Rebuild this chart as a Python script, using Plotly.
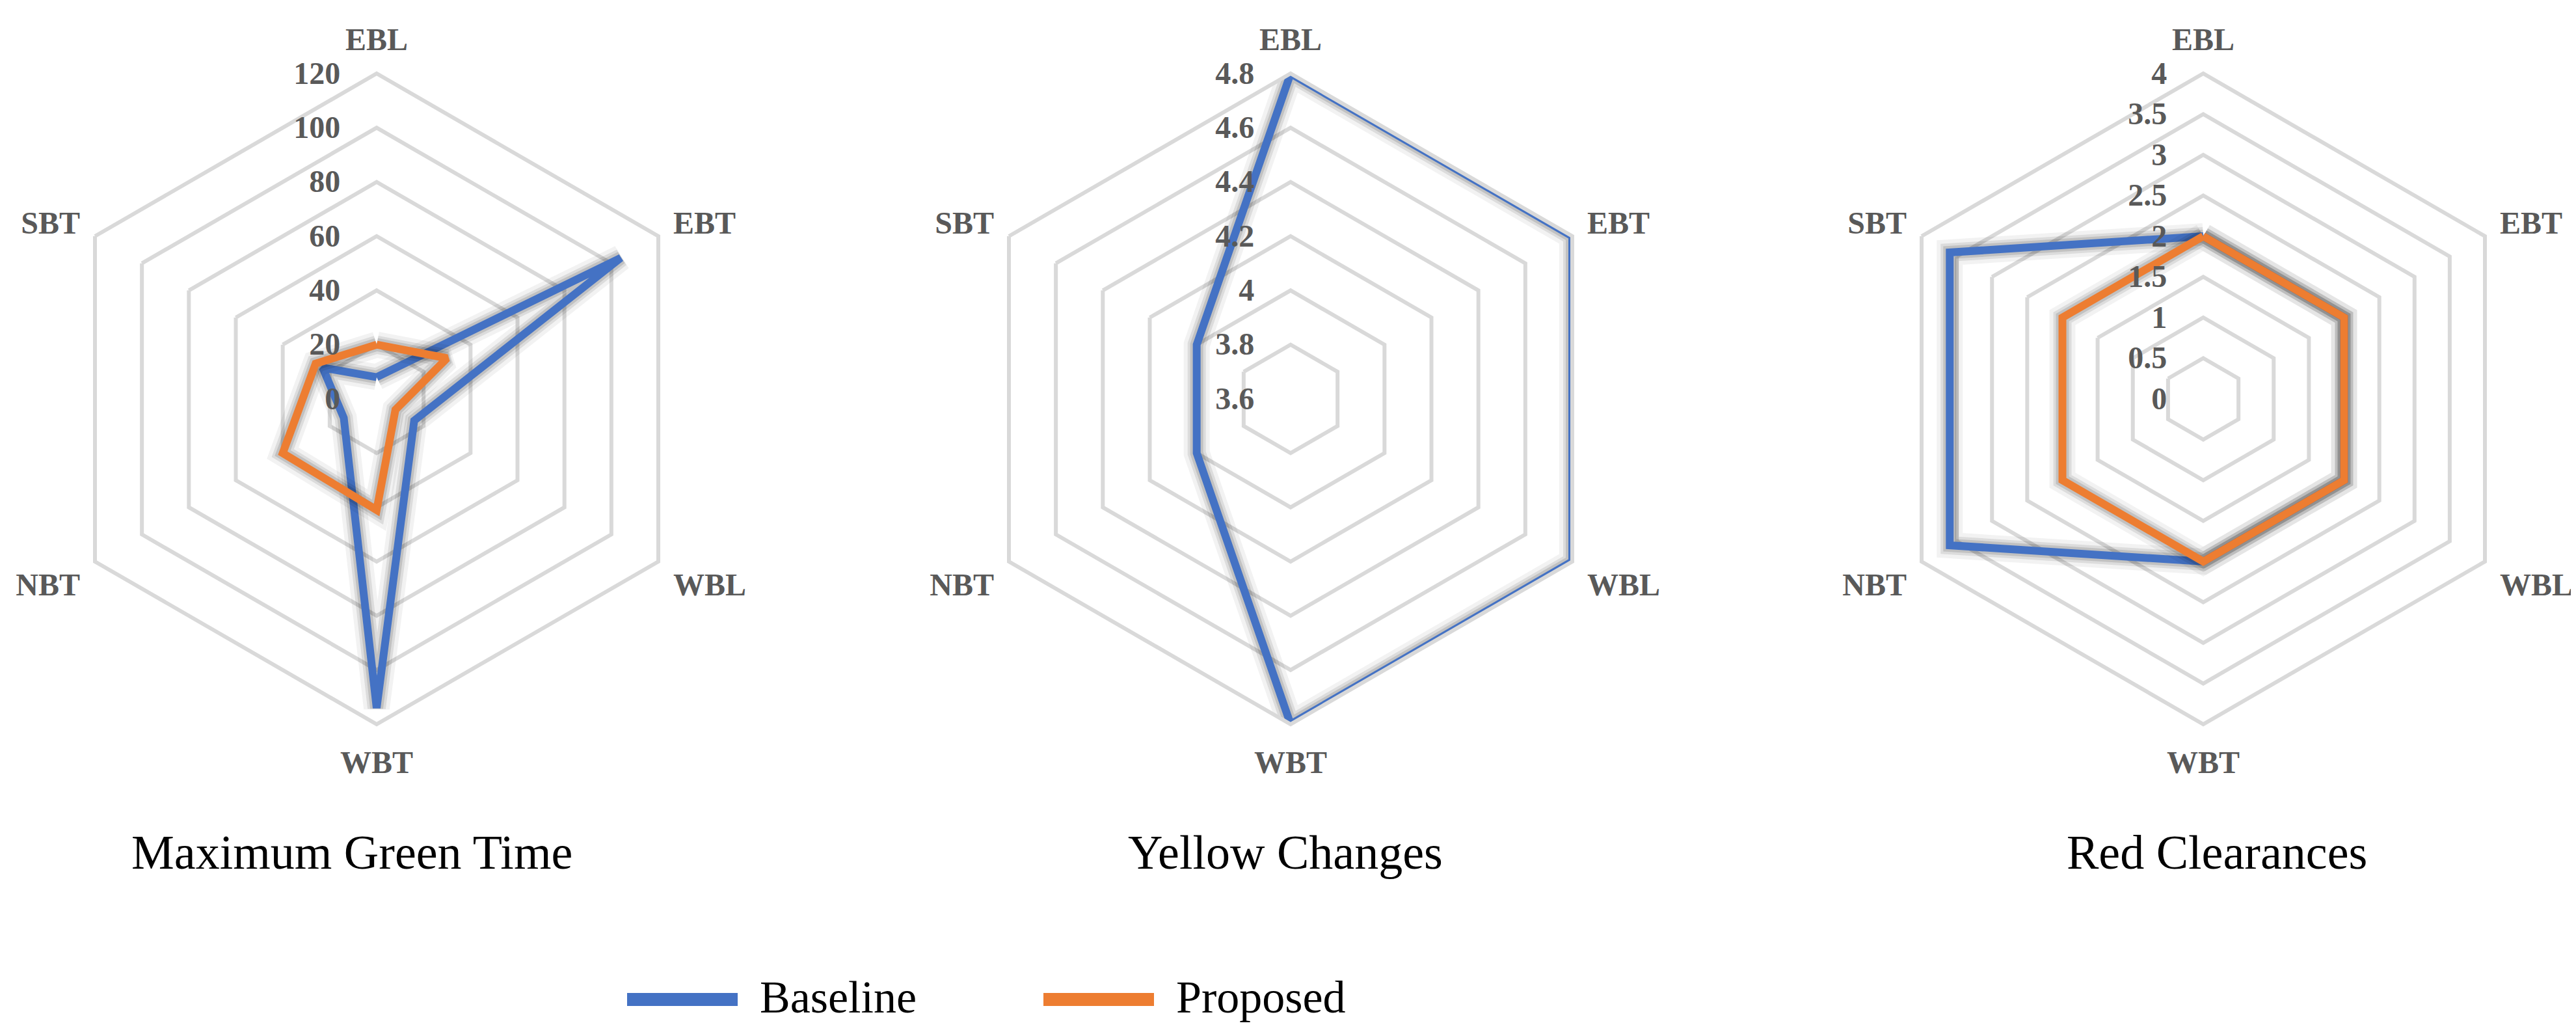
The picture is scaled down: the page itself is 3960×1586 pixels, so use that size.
import plotly.graph_objects as go

# approach lanes, clockwise from the top
approaches = ["EBL", "EBT", "WBL", "WBT", "NBT", "SBT"]

series_names = ["Baseline", "Proposed"]

# Maximum green time (s)
green_baseline = [8, 104, 16, 114, 14, 23]
green_proposed = [20, 30, 8, 41, 40, 26]

# Yellow change interval (s)
yellow_baseline = [4.8, 4.8, 4.8, 4.8, 4.0, 4.0]

# Red clearance interval (s)
red_baseline = [2.0, 2.0, 2.0, 2.0, 3.6, 3.6]
red_proposed = [2.0, 2.0, 2.0, 2.0, 2.0, 2.0]

chart_titles = ["Maximum Green Time", "Yellow Changes", "Red Clearances"]

BLUE = "#4472C4"
ORANGE = "#ED7D31"
GRID = "#D9D9D9"
LABEL = "#595959"
SERIF = "Liberation Serif"

W, H = 3960, 1586


def closed(vals):
    return list(vals) + [vals[0]]


fig = go.Figure()


def add_series(name, vals, color, subplot):
    theta = closed(approaches)
    # soft shadow under the line, a rough take on the Excel effect
    for w, a in [(40, 0.05), (28, 0.09), (20, 0.12)]:
        fig.add_trace(go.Scatterpolar(
            r=closed(vals), theta=theta, mode="lines",
            line=dict(color=f"rgba(0,0,0,{a})", width=w),
            showlegend=False, hoverinfo="skip", subplot=subplot))
    fig.add_trace(go.Scatterpolar(
        r=closed(vals), theta=theta, mode="lines", name=name,
        line=dict(color=color, width=12),
        showlegend=False, subplot=subplot))


add_series("Baseline", green_baseline, BLUE, "polar")
add_series("Proposed", green_proposed, ORANGE, "polar")
add_series("Baseline", yellow_baseline, BLUE, "polar2")
add_series("Baseline", red_baseline, BLUE, "polar3")
add_series("Proposed", red_proposed, ORANGE, "polar3")

# chart centres / radius in pixels
centres_x = [571, 1976, 3379]
centre_y = 605
radius = 500
ranges = [[0, 120], [3.6, 4.8], [0, 4]]
steps = [20, 0.2, 0.5]


def polar_layout(i):
    cx = centres_x[i]
    return dict(
        domain=dict(x=[(cx - radius) / W, (cx + radius) / W],
                    y=[(H - centre_y - radius) / H, (H - centre_y + radius) / H]),
        bgcolor="white",
        gridshape="linear",
        radialaxis=dict(
            range=ranges[i], dtick=steps[i], angle=90, tickangle=90,
            side="counterclockwise", ticksuffix="\u00a0\u00a0\u00a0\u00a0",
            showline=False, ticks="", gridcolor=GRID, gridwidth=6,
            tickfont=dict(family=SERIF, size=48, color=LABEL, weight="bold"),
        ),
        angularaxis=dict(
            rotation=90, direction="clockwise", categoryarray=approaches,
            showgrid=False, showline=True, linecolor=GRID, linewidth=6,
            ticks="outside", ticklen=14, tickcolor="rgba(0,0,0,0)",
            tickfont=dict(family=SERIF, size=48, color=LABEL, weight="bold"),
        ),
    )


title_x = [533, 1968, 3400]
annotations = [
    dict(text=t, x=title_x[i] / W, y=(H - 1302) / H, xref="paper", yref="paper",
         showarrow=False, xanchor="center", yanchor="middle",
         font=dict(family=SERIF, size=74, color="black"))
    for i, t in enumerate(chart_titles)
]

# legend drawn by hand so the swatches can be as long and thick as the original
legend_x = [956, 1596]
legend_y = 1528
shapes = []
for name, colour, lx in zip(series_names, [BLUE, ORANGE], legend_x):
    shapes.append(dict(type="line", xref="paper", yref="paper",
                       x0=lx / W, x1=(lx + 170) / W,
                       y0=(H - legend_y) / H, y1=(H - legend_y) / H,
                       line=dict(color=colour, width=20)))
    annotations.append(dict(text=name, x=(lx + 202) / W, y=(H - legend_y + 4) / H,
                            xref="paper", yref="paper", showarrow=False,
                            xanchor="left", yanchor="middle",
                            font=dict(family=SERIF, size=70, color="black")))

fig.update_layout(
    width=W, height=H,
    margin=dict(l=0, r=0, t=0, b=0),
    paper_bgcolor="white",
    polar=polar_layout(0), polar2=polar_layout(1), polar3=polar_layout(2),
    annotations=annotations,
    shapes=shapes,
    showlegend=False,
)

fig.write_html("out.html")
